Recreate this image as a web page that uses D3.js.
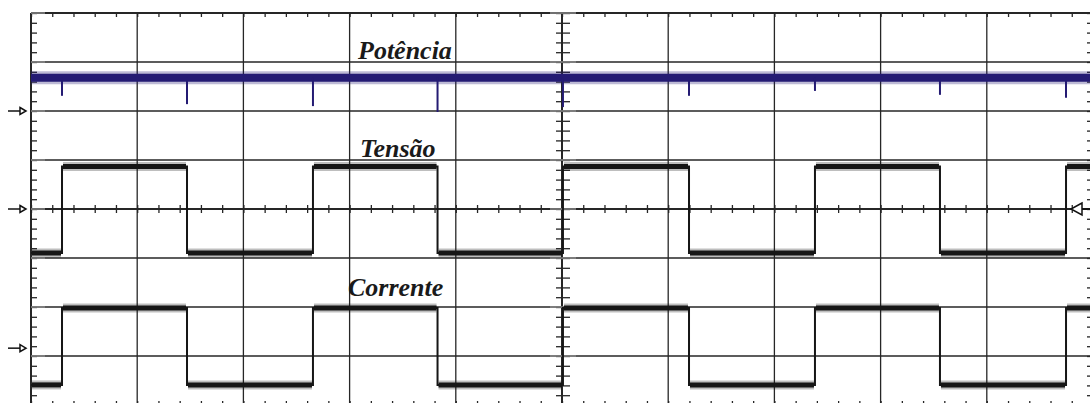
<!DOCTYPE html>
<html>
<head>
<meta charset="utf-8">
<script src="https://cdn.jsdelivr.net/npm/d3@7"></script>
<style>
  html, body { margin: 0; padding: 0; background: #fff; }
  svg { display: block; }
</style>
</head>
<body>
<svg id="chart" width="1090" height="403"></svg>
<script>
// ---- Data (time in divisions, amplitude in divisions) ----
const xDivisions = [0, 1, 2, 3, 4, 5, 6, 7, 8, 9, 10];
const yDivisions = [-4, -3, -2, -1, 0, 1, 2, 3, 4];
const edgeTimes = [0.292, 1.469, 2.655, 3.828, 5.009, 6.196, 7.382, 8.559, 9.746];
const startLevelHigh = false;           // square waves start low
const tensaoLevels = { high: 0.867, low: -0.898 };
const correnteLevels = { high: -2.02, low: -3.59 };
const potenciaLevel = 2.68;
const potenciaSpikes = [2.31, 2.14, 2.10, 1.98, 2.08, 2.31, 2.41, 2.33, 2.27];
const channelNames = ["Potência", "Tensão", "Corrente"];
const groundMarkers = [2.0, 0.0, -2.84];
const triggerLevel = 0.0;

// ---- Scales ----
const W = 1090, H = 403;
const x = d3.scaleLinear().domain([0, 10]).range([31, 1093]);
const y = d3.scaleLinear().domain([-4, 4]).range([405, 13]);
const svg = d3.select("#chart");
const gridColor = "#262626";

// ---- Grid ----
const grid = svg.append("g");
grid.selectAll("line.v").data(xDivisions).join("line")
  .attr("x1", d => x(d)).attr("x2", d => x(d))
  .attr("y1", y(4)).attr("y2", y(-4))
  .attr("stroke", gridColor).attr("stroke-width", d => (d === 0 || d === 5) ? 2 : 1.3);
grid.selectAll("line.h").data(yDivisions).join("line")
  .attr("x1", x(0)).attr("x2", x(10))
  .attr("y1", d => y(d)).attr("y2", d => y(d))
  .attr("stroke", gridColor).attr("stroke-width", d => (d === 4 || d === 0) ? 2 : 1.3);

const minorX = d3.range(0, 10.0001, 0.2).map(v => +v.toFixed(2));
const minorY = d3.range(-4, 4.0001, 0.2).map(v => +v.toFixed(2));

function styleAxis(g, w) {
  g.selectAll("path.domain").remove();
  g.selectAll("line").attr("stroke", gridColor).attr("stroke-width", w || 1.3);
}
// border ticks
svg.append("g").attr("transform", `translate(0,${y(4)})`)
  .call(d3.axisBottom(x).tickValues(minorX).tickSize(4).tickFormat("")).call(styleAxis);
svg.append("g").attr("transform", `translate(0,${y(-4)})`)
  .call(d3.axisTop(x).tickValues(minorX).tickSize(4).tickFormat("")).call(styleAxis);
svg.append("g").attr("transform", `translate(${x(0)},0)`)
  .call(d3.axisRight(y).tickValues(minorY).tickSize(6).tickFormat("")).call(styleAxis);
svg.append("g").attr("transform", `translate(${x(10)},0)`)
  .call(d3.axisLeft(y).tickValues(minorY).tickSize(6).tickFormat("")).call(styleAxis);
// center axis ticks
svg.append("g").attr("transform", `translate(0,${y(0)})`)
  .call(d3.axisBottom(x).tickValues(minorX).tickSize(4).tickFormat("")).call(styleAxis);
svg.append("g").attr("transform", `translate(0,${y(0)})`)
  .call(d3.axisTop(x).tickValues(minorX).tickSize(4).tickFormat("")).call(styleAxis);
svg.append("g").attr("transform", `translate(${x(5)},0)`)
  .call(d3.axisRight(y).tickValues(minorY).tickSize(8).tickFormat("")).call(styleAxis);
svg.append("g").attr("transform", `translate(${x(5)},0)`)
  .call(d3.axisLeft(y).tickValues(minorY).tickSize(6).tickFormat("")).call(styleAxis);
// longer gray marks at major intersections
svg.append("g").selectAll("line").data(yDivisions).join("line")
  .attr("x1", x(5) - 12).attr("x2", x(5) + 14)
  .attr("y1", d => y(d)).attr("y2", d => y(d))
  .attr("stroke", "#8a8a8a").attr("stroke-width", 1.5);
svg.append("g").selectAll("line").data(yDivisions).join("line")
  .attr("x1", x(0)).attr("x2", x(0) + 14)
  .attr("y1", d => y(d)).attr("y2", d => y(d))
  .attr("stroke", "#8a8a8a").attr("stroke-width", 1.5);

// ---- Traces ----
function segments(levels) {
  const bounds = [0, ...edgeTimes, 10];
  const segs = [];
  let high = startLevelHigh;
  for (let i = 0; i < bounds.length - 1; i++) {
    segs.push({ t0: bounds[i], t1: bounds[i + 1], v: high ? levels.high : levels.low });
    high = !high;
  }
  return segs;
}
function stepPoints(levels) {
  const pts = [];
  segments(levels).forEach(s => { pts.push([s.t0, s.v]); pts.push([s.t1, s.v]); });
  return pts;
}
const line = d3.line().x(d => x(d[0])).y(d => y(d[1]));

function drawSquare(levels, color) {
  const g = svg.append("g");
  g.append("path").datum(stepPoints(levels)).attr("d", line)
    .attr("fill", "none").attr("stroke", color).attr("stroke-width", 2);
  const segs = segments(levels);
  g.selectAll("line.fringe").data(segs).join("line")
    .attr("x1", d => x(d.t0) + 1).attr("x2", d => x(d.t1) - 1)
    .attr("y1", d => y(d.v)).attr("y2", d => y(d.v))
    .attr("stroke", color).attr("stroke-width", 9).attr("stroke-opacity", 0.28);
  g.selectAll("line.core").data(segs).join("line")
    .attr("x1", d => x(d.t0) + 1).attr("x2", d => x(d.t1) - 1)
    .attr("y1", d => y(d.v)).attr("y2", d => y(d.v))
    .attr("stroke", color).attr("stroke-width", 5);
}
drawSquare(tensaoLevels, "#161616");
drawSquare(correnteLevels, "#161616");

// Potência trace
const blue = "#241b73";
const pg = svg.append("g");
pg.append("line").attr("x1", x(0)).attr("x2", x(10))
  .attr("y1", y(potenciaLevel)).attr("y2", y(potenciaLevel))
  .attr("stroke", blue).attr("stroke-width", 13).attr("stroke-opacity", 0.3);
pg.append("line").attr("x1", x(0)).attr("x2", x(10))
  .attr("y1", y(potenciaLevel)).attr("y2", y(potenciaLevel))
  .attr("stroke", blue).attr("stroke-width", 8);
pg.selectAll("line.spike").data(potenciaSpikes).join("line")
  .attr("x1", (d, i) => x(edgeTimes[i])).attr("x2", (d, i) => x(edgeTimes[i]))
  .attr("y1", y(potenciaLevel)).attr("y2", d => y(d))
  .attr("stroke", blue).attr("stroke-width", 2);

// ---- Labels ----
const labelPos = [[358, 59], [360, 157], [348, 296]];
svg.append("g").selectAll("text").data(channelNames).join("text")
  .attr("x", (d, i) => labelPos[i][0]).attr("y", (d, i) => labelPos[i][1])
  .attr("font-family", "'Liberation Serif', 'Times New Roman', serif")
  .attr("font-weight", "bold").attr("font-style", "italic")
  .attr("font-size", 26).attr("fill", "#1a1a1a")
  .text(d => d);

// ---- Ground markers (left) ----
const mk = svg.append("g");
groundMarkers.forEach(v => {
  const yy = y(v);
  mk.append("line").attr("x1", 8).attr("x2", 20).attr("y1", yy).attr("y2", yy)
    .attr("stroke", "#111").attr("stroke-width", 1.5);
  mk.append("path").attr("d", `M20,${yy - 3.5} L26,${yy} L20,${yy + 3.5} Z`)
    .attr("fill", "#fff").attr("stroke", "#111").attr("stroke-width", 1.5);
});
// trigger marker (right)
const ty = y(triggerLevel);
mk.append("line").attr("x1", 1082).attr("x2", 1092).attr("y1", ty).attr("y2", ty)
  .attr("stroke", "#111").attr("stroke-width", 1.5);
mk.append("path").attr("d", `M1082,${ty - 6} L1071,${ty} L1082,${ty + 6} Z`)
  .attr("fill", "#fff").attr("stroke", "#111").attr("stroke-width", 1.5);
</script>
</body>
</html>
